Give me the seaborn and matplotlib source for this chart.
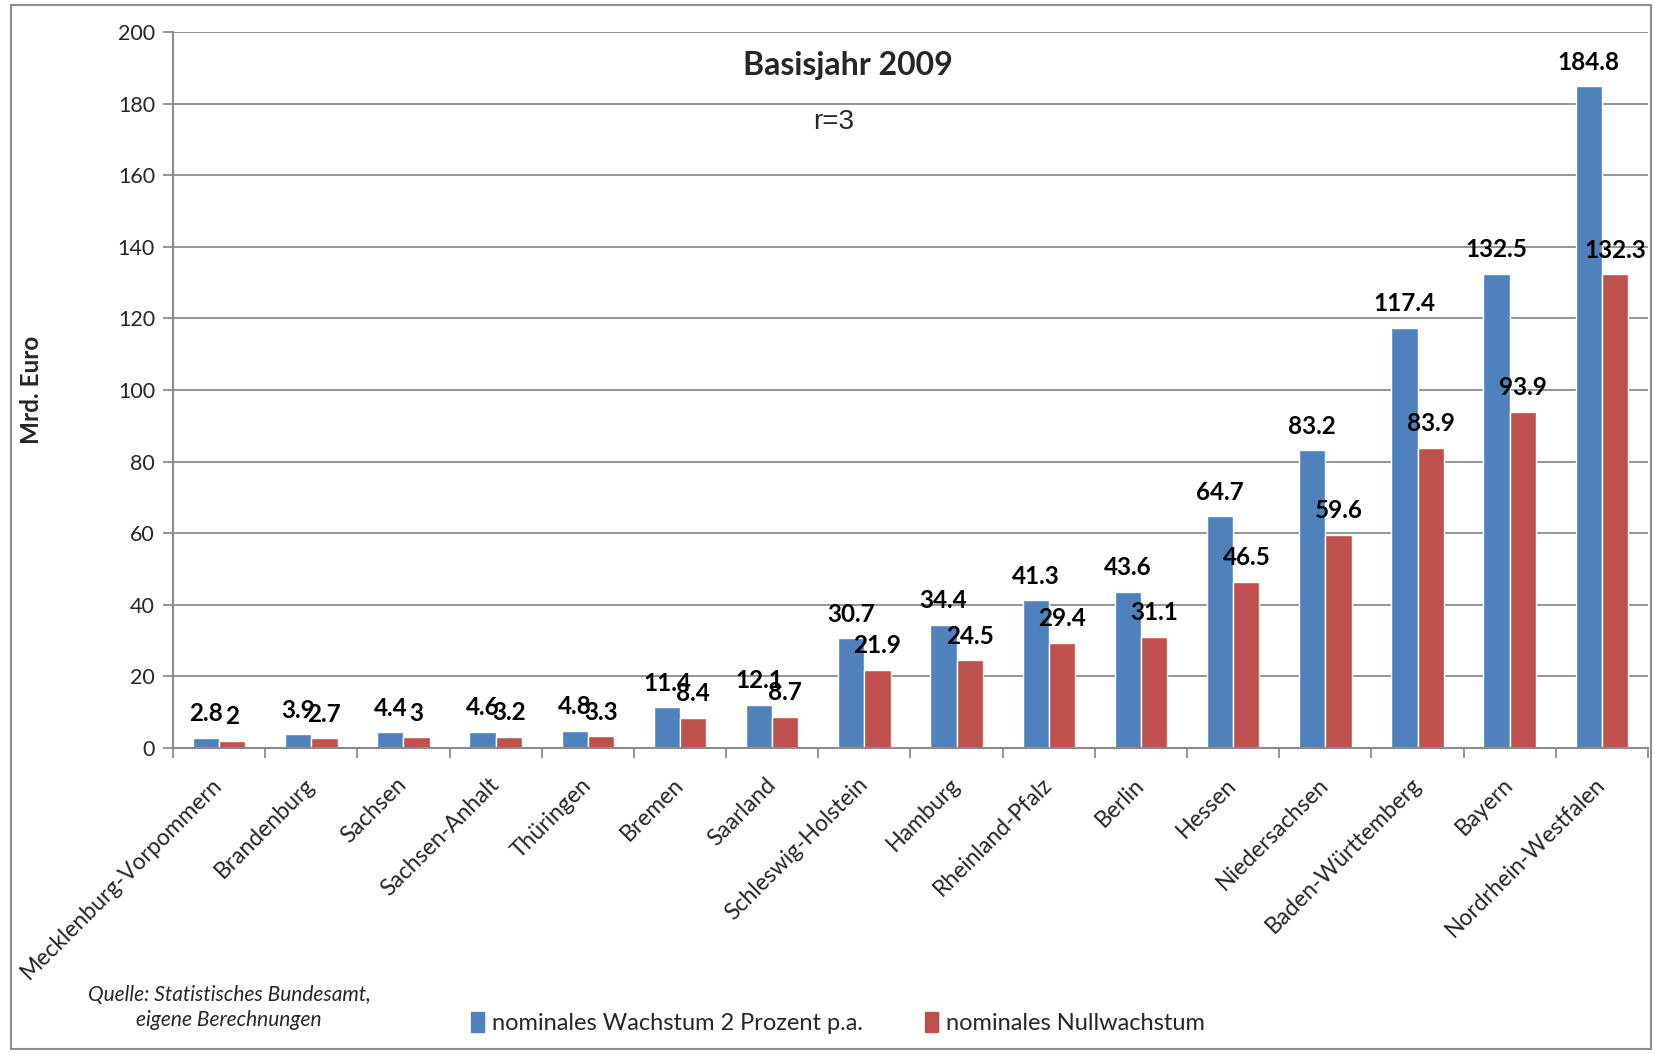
import matplotlib
matplotlib.use("Agg")
import matplotlib.pyplot as plt
import matplotlib.patches as mpatches
import seaborn as sns
import pandas as pd
import numpy as np

laender = ["Mecklenburg-Vorpommern", "Brandenburg", "Sachsen", "Sachsen-Anhalt",
           "Thüringen", "Bremen", "Saarland", "Schleswig-Holstein", "Hamburg",
           "Rheinland-Pfalz", "Berlin", "Hessen", "Niedersachsen",
           "Baden-Württemberg", "Bayern", "Nordrhein-Westfalen"]
wachstum_2 = [2.8, 3.9, 4.4, 4.6, 4.8, 11.4, 12.1, 30.7, 34.4, 41.3, 43.6,
              64.7, 83.2, 117.4, 132.5, 184.8]
null_wachstum = [2, 2.7, 3, 3.2, 3.3, 8.4, 8.7, 21.9, 24.5, 29.4, 31.1,
                 46.5, 59.6, 83.9, 93.9, 132.3]
serien = ["nominales Wachstum 2 Prozent p.a.", "nominales Nullwachstum"]
y_ticks = [0, 20, 40, 60, 80, 100, 120, 140, 160, 180, 200]

df = pd.DataFrame({
    "Land": laender * 2,
    "Wert": wachstum_2 + null_wachstum,
    "Serie": [serien[0]] * len(laender) + [serien[1]] * len(laender),
})

sns.set_theme(style="white")
plt.rcParams["font.family"] = ["Lato", "DejaVu Sans"]

W, H, DPI = 1656, 1053, 100
fig = plt.figure(figsize=(W / DPI, H / DPI), dpi=DPI)
ax = fig.add_axes([173 / W, 1 - 748 / H, (1648 - 173) / W, (748 - 32) / H])

blue, red = "#4F81BD", "#C0504D"
grid_c = "#8C8C8C"

sns.barplot(data=df, x="Land", y="Wert", hue="Serie", palette=[blue, red],
            width=0.57, saturation=1, gap=0, ax=ax, order=laender,
            hue_order=serien, legend=True)

for cont in ax.containers:
    ax.bar_label(cont, fmt="%g", padding=9, fontsize=17.5, fontweight="bold",
                 color="black")

ax.set_xlim(-0.5, len(laender) - 0.5)
ax.set_ylim(0, 200)
ax.set_yticks(y_ticks)
ax.set_yticklabels([str(v) for v in y_ticks], fontsize=15.5)
ax.yaxis.grid(True, color=grid_c, linewidth=1.3)
ax.set_axisbelow(True)
ax.set_xlabel("")
ax.set_ylabel("")

for s in ["top", "right"]:
    ax.spines[s].set_visible(False)
for s in ["left", "bottom"]:
    ax.spines[s].set_color(grid_c)
    ax.spines[s].set_linewidth(1.5)

ax.tick_params(axis="y", which="major", left=True, length=7, width=1.3,
               color=grid_c, pad=6)
ax.set_xticks(np.arange(len(laender)))
ax.set_xticks(np.arange(-0.5, len(laender), 1), minor=True)
ax.tick_params(axis="x", which="major", length=0, pad=24)
ax.tick_params(axis="x", which="minor", bottom=True, length=7, width=1.3,
               color=grid_c)
ax.set_xticklabels(laender, rotation=45, ha="right", va="center",
                   rotation_mode="anchor", fontsize=16.5)

# legend
ax.get_legend().remove()
handles = [mpatches.Patch(color=blue), mpatches.Patch(color=red)]
fig.legend(handles, serien, loc="center", bbox_to_anchor=(838 / W, 1 - 1023 / H),
           ncol=2, frameon=False, fontsize=17, handlelength=0.55,
           handleheight=0.9, handletextpad=0.35, columnspacing=2.6)

# title texts
fig.text(848 / W, 1 - 65 / H, "Basisjahr 2009", ha="center", va="center",
         fontsize=23, fontweight="bold")
fig.text(834 / W, 1 - 122 / H, "r=3", ha="center", va="center", fontsize=20,
         family=["Liberation Sans", "DejaVu Sans"])
fig.text(32 / W, 1 - 390 / H, "Mrd. Euro", ha="center", va="center",
         rotation=90, fontsize=17.5, fontweight="bold")
fig.text(229 / W, 1 - 995 / H, "Quelle: Statistisches Bundesamt,",
         ha="center", va="center", fontsize=15, style="italic")
fig.text(229 / W, 1 - 1020 / H, "eigene Berechnungen",
         ha="center", va="center", fontsize=15, style="italic")

# outer frame
fig.patches.append(mpatches.Rectangle((11 / W, 1 - 1049 / H), (1651 - 11) / W,
                                      (1049 - 5) / H, transform=fig.transFigure,
                                      fill=False, edgecolor="#8C8C8C",
                                      linewidth=1.5))

fig.savefig("out.png", dpi=DPI)
